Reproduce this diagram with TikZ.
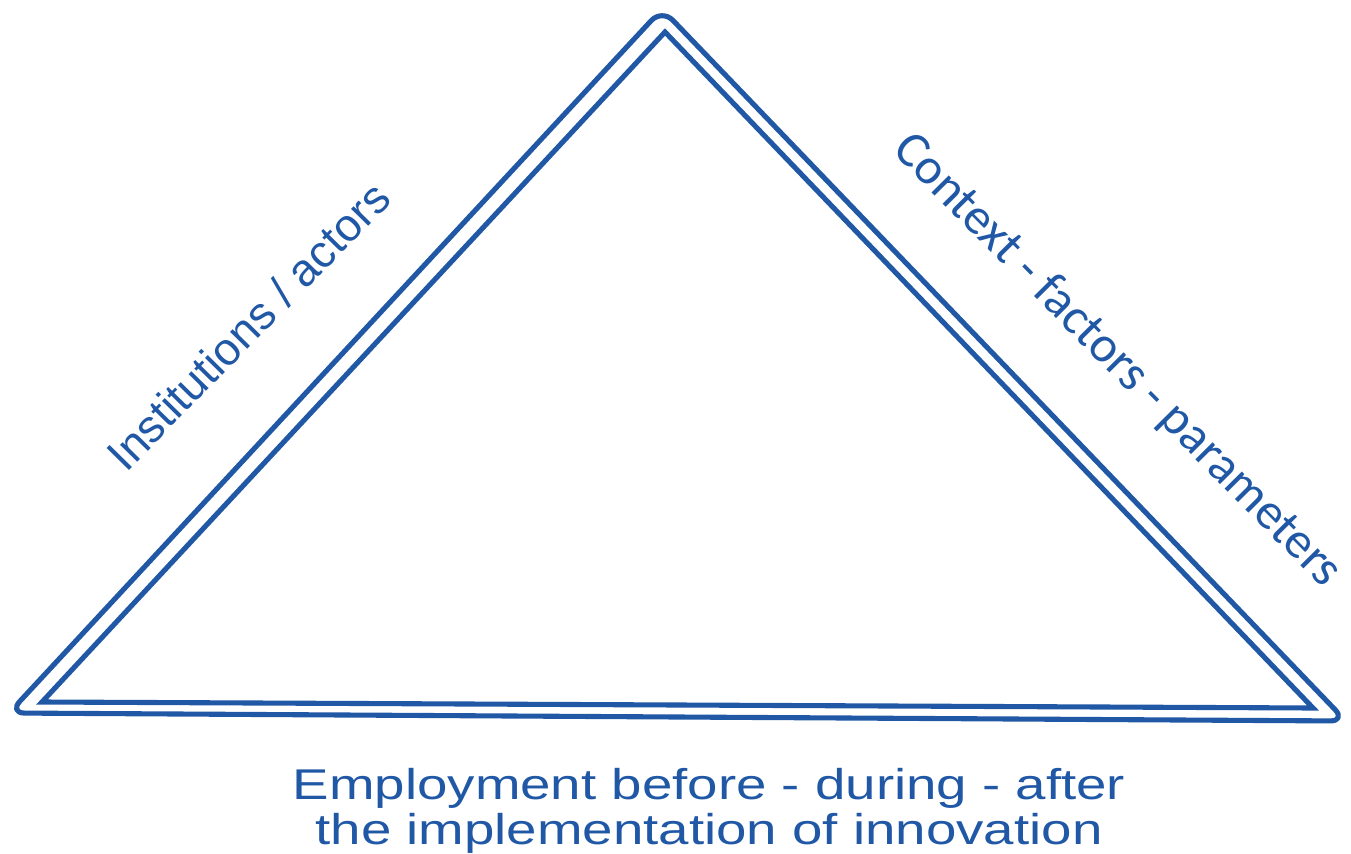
\documentclass[tikz,border=0pt]{standalone}
\usepackage{fontspec}
\setmainfont{Liberation Sans}
\newfontfamily\calibrifont{Carlito}
\usetikzlibrary{calc,positioning}
\definecolor{frameblue}{RGB}{32,88,166}

\tikzset{
	frame/.style={draw=frameblue, line width=2.9pt, line join=round},
	sidelabel/.style={text=frameblue, inner sep=0pt},
}

\begin{document}
\begin{tikzpicture}[x=0.02cm, y=-0.02cm]
	\useasboundingbox (0,0) rectangle (1351,854);
	
	% Corners of the outer and inner triangle
	\coordinate (outtop) at (662,9);
	\coordinate (outleft) at (9,713);
	\coordinate (outright) at (1346,721);
	\coordinate (intop) at (665,32);
	\coordinate (inleft) at (42,702);
	\coordinate (inright) at (1313,708);
	
	% Double frame
	\draw[frame, rounded corners=9] (outtop) -- (outleft) -- (outright) -- cycle;
	\draw[frame, line join=miter] (intop) -- (inleft) -- (inright) -- cycle;
	
	% Labels along the sides
	\node[sidelabel, rotate=45.5, font=\fontsize{26}{30}\selectfont] (actors) at (248,326) {Institutions / actors};
	\node[sidelabel, rotate=-45.3, font=\calibrifont\fontsize{29}{34}\selectfont] (context) at (1117,361) {Context - factors - parameters};
	
	% Label below the base
	\node[sidelabel, align=center, xscale=1.27, font=\fontsize{24.5}{25.6}\selectfont] (employment) at (709,811) {Employment before - during - after\\the implementation of innovation};
\end{tikzpicture}
\end{document}
